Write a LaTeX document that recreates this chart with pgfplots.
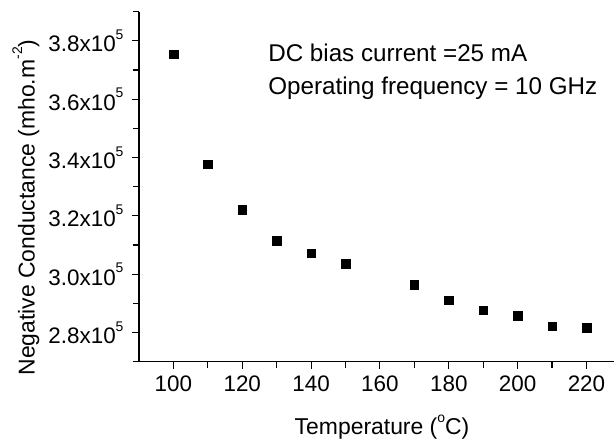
\documentclass[border=0pt]{standalone}
\usepackage{fontspec}
\setmainfont{Liberation Sans}
\usepackage{pgfplots}
\pgfplotsset{compat=1.18}
\newcommand{\supr}[1]{\raisebox{0.55em}{\fontsize{14}{16}\selectfont #1}}
\begin{document}
\fontsize{22}{26}\selectfont
\begin{tikzpicture}
\begin{axis}[
  scale only axis, width=475bp, height=350bp,
  xmin=90, xmax=228, ymin=270000, ymax=390000,
  axis lines*=left,
  axis line style={line width=1.1bp, black},
  tick style={line width=1.1bp, black},
  tick align=outside, major tick length=7bp, minor tick length=6bp,
  xtick={100,120,...,220}, minor xtick={110,130,...,210},
  ytick={280000,300000,...,380000}, minor ytick={270000,290000,...,390000},
  yticklabels={2.8x10\supr{5},3.0x10\supr{5},3.2x10\supr{5},3.4x10\supr{5},3.6x10\supr{5},3.8x10\supr{5}},
  scaled y ticks=false,
  /pgf/number format/assume math mode=true,
  tick label style={font=\fontsize{22.5}{26}\selectfont, text=black},
  yticklabel style={xshift=-1bp},
  xlabel={Temperature (\supr{o}C)},
  ylabel={Negative Conductance (mho.m\supr{-2})},
  xlabel style={at={(rel axis cs:0.5116,-0.2094)}, anchor=base, font=\fontsize{23}{26}\selectfont},
  ylabel style={at={(rel axis cs:-0.238,0.4406)}, anchor=center, rotate=0, font=\fontsize{23}{26}\selectfont},
  clip=false,
]
\addplot[only marks, mark=square*, mark size=4.3bp, black] coordinates {
  (100,375400) (110,337700) (120,322200) (130,311500) (140,307150)
  (150,303700) (170,296500) (180,291100) (190,287600) (200,285800)
  (210,282200) (220,281600)
};
\node[anchor=base west, inner sep=0pt, font=\fontsize{24.3}{26}\selectfont] at (axis cs:127.5,372900) {DC bias current =25 mA};
\node[anchor=base west, inner sep=0pt, font=\fontsize{24.3}{26}\selectfont] at (axis cs:127.5,361700) {Operating frequency = 10 GHz};
\coordinate (O) at (rel axis cs:0,0);
\coordinate (T) at (rel axis cs:1,1);
\end{axis}
\pgfresetboundingbox
\path[use as bounding box] ([shift={(-139bp,-81.3bp)}]O) rectangle ([shift={(0bp,11.7bp)}]T);
\end{tikzpicture}
\end{document}
